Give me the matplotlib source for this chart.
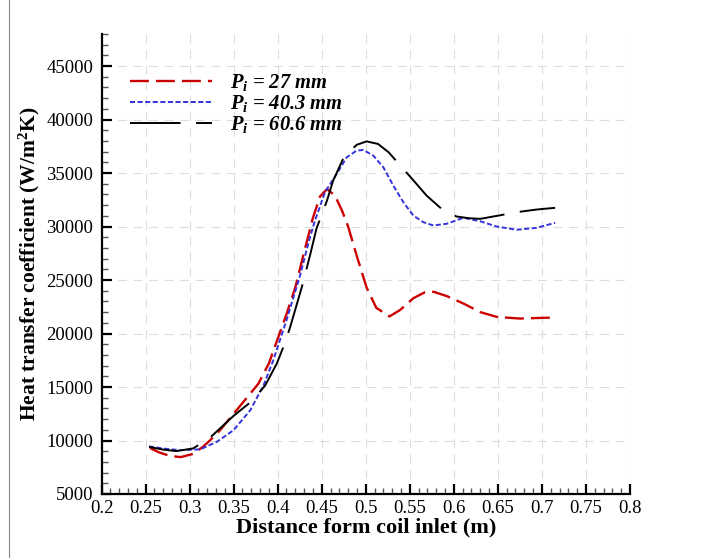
import matplotlib
matplotlib.use("Agg")
import matplotlib.pyplot as plt
from matplotlib.lines import Line2D

# data
x_27 = [0.255, 0.265, 0.278, 0.29, 0.304, 0.315, 0.323, 0.335, 0.35, 0.365, 0.378, 0.39,
        0.40, 0.41, 0.42, 0.43, 0.44, 0.448, 0.456, 0.465, 0.473, 0.48, 0.49, 0.501,
        0.512, 0.527, 0.539, 0.554, 0.567, 0.577, 0.592, 0.611, 0.63, 0.649, 0.675, 0.715]
h_27 = [9300, 8900, 8550, 8450, 8750, 9400, 10000, 11000, 12500, 14000, 15300, 17200,
        19500, 21800, 24300, 27600, 30800, 32800, 33500, 32900, 31500, 30000, 27200, 24300,
        22400, 21600, 22200, 23300, 23850, 23900, 23500, 22800, 22000, 21550, 21400, 21500]

x_403 = [0.254, 0.27, 0.289, 0.312, 0.331, 0.35, 0.369, 0.384, 0.395, 0.41, 0.425, 0.436,
         0.4424, 0.4537, 0.467, 0.4784, 0.4897, 0.4972, 0.5086, 0.52, 0.5313, 0.5427, 0.554,
         0.5653, 0.5767, 0.592, 0.6108, 0.6297, 0.6487, 0.6714, 0.694, 0.715]
h_403 = [9450, 9250, 9100, 9170, 9880, 10970, 12840, 15170, 17500, 21230, 25300, 28800,
         30560, 33210, 34920, 36470, 37100, 37160, 36630, 35540, 33830, 32270, 31030,
         30410, 30100, 30260, 30820, 30500, 30000, 29700, 29880, 30350]

x_606 = [0.254, 0.27, 0.285, 0.304, 0.323, 0.35, 0.372, 0.386, 0.399, 0.408, 0.414, 0.428,
         0.437, 0.444, 0.456, 0.463, 0.476, 0.49, 0.501, 0.514, 0.526, 0.541, 0.556, 0.569,
         0.586, 0.603, 0.617, 0.63, 0.653, 0.671, 0.694, 0.715]
h_606 = [9400, 9150, 9010, 9260, 10250, 12310, 13770, 15170, 17190, 19060, 20550, 24500,
         27400, 29790, 32430, 34300, 36630, 37650, 37960, 37720, 36940, 35540, 34140, 32900,
         31660, 30940, 30780, 30720, 31060, 31340, 31590, 31750]

labels = [r"$P_i$ = 27 mm", r"$P_i$ = 40.3 mm", r"$P_i$ = 60.6 mm"]

plt.rcParams["font.family"] = ["Liberation Serif", "DejaVu Serif"]
plt.rcParams["mathtext.fontset"] = "custom"
plt.rcParams["mathtext.it"] = "Liberation Serif:italic:bold"
plt.rcParams["mathtext.rm"] = "Liberation Serif:bold"
plt.rcParams["mathtext.bf"] = "Liberation Serif:bold"

fig = plt.figure(figsize=(7.02, 5.58), dpi=100)
ax = fig.add_axes([0.1446, 0.1147, 0.7528, 0.8244])

ax.plot(x_27, h_27, color="#cc0000", lw=1.7, dashes=(8, 3), label=labels[0])
ax.plot(x_403, h_403, color="#3333dd", lw=1.4, dashes=(2.6, 1.3), label=labels[1])
ax.plot(x_606, h_606, color="black", lw=1.4, dashes=(26, 8), label=labels[2])

ax.set_xlim(0.2, 0.8)
ax.set_ylim(5000, 48000)
ax.set_xticks([0.2 + 0.05 * i for i in range(13)])
ax.set_xticklabels(["0.2", "0.25", "0.3", "0.35", "0.4", "0.45", "0.5", "0.55",
                    "0.6", "0.65", "0.7", "0.75", "0.8"])
ax.set_xticks([0.2 + 0.01 * i for i in range(61)], minor=True)
ax.set_yticks(range(5000, 46000, 5000))
ax.set_yticks(range(5000, 48001, 1000), minor=True)

ax.spines["top"].set_visible(False)
ax.spines["right"].set_visible(False)
ax.spines["left"].set_linewidth(1.6)
ax.spines["bottom"].set_linewidth(1.6)
ax.tick_params(which="major", direction="in", length=7, width=1.6, labelsize=13.5)
ax.tick_params(axis="y", which="major", pad=6)
ax.tick_params(axis="x", which="major", pad=4)
ax.tick_params(which="minor", direction="in", length=4, width=1.0, color="#555555")

ax.grid(which="major", color="#dddddd", linestyle=(0, (8, 6)), linewidth=0.8)
ax.set_axisbelow(True)

ax.set_xlabel("Distance form coil inlet (m)", fontsize=16, fontweight="bold", labelpad=1)
ax.set_ylabel(r"Heat transfer coefficient (W/m$^\mathbf{2}$K)", fontsize=15.5,
              fontweight="bold", labelpad=3)

leg = ax.legend(loc="upper left", bbox_to_anchor=(0.054, 0.918), frameon=False,
                borderaxespad=0, borderpad=0,
                handlelength=4.0, handletextpad=0.85, labelspacing=0.0,
                prop={"size": 14.8, "weight": "bold", "style": "italic"})

# thin frame line at the left edge of the page
fig.add_artist(Line2D([0.013, 0.013], [0, 1], transform=fig.transFigure,
                      color="#888888", lw=0.8))

fig.savefig("out.png", dpi=100)
